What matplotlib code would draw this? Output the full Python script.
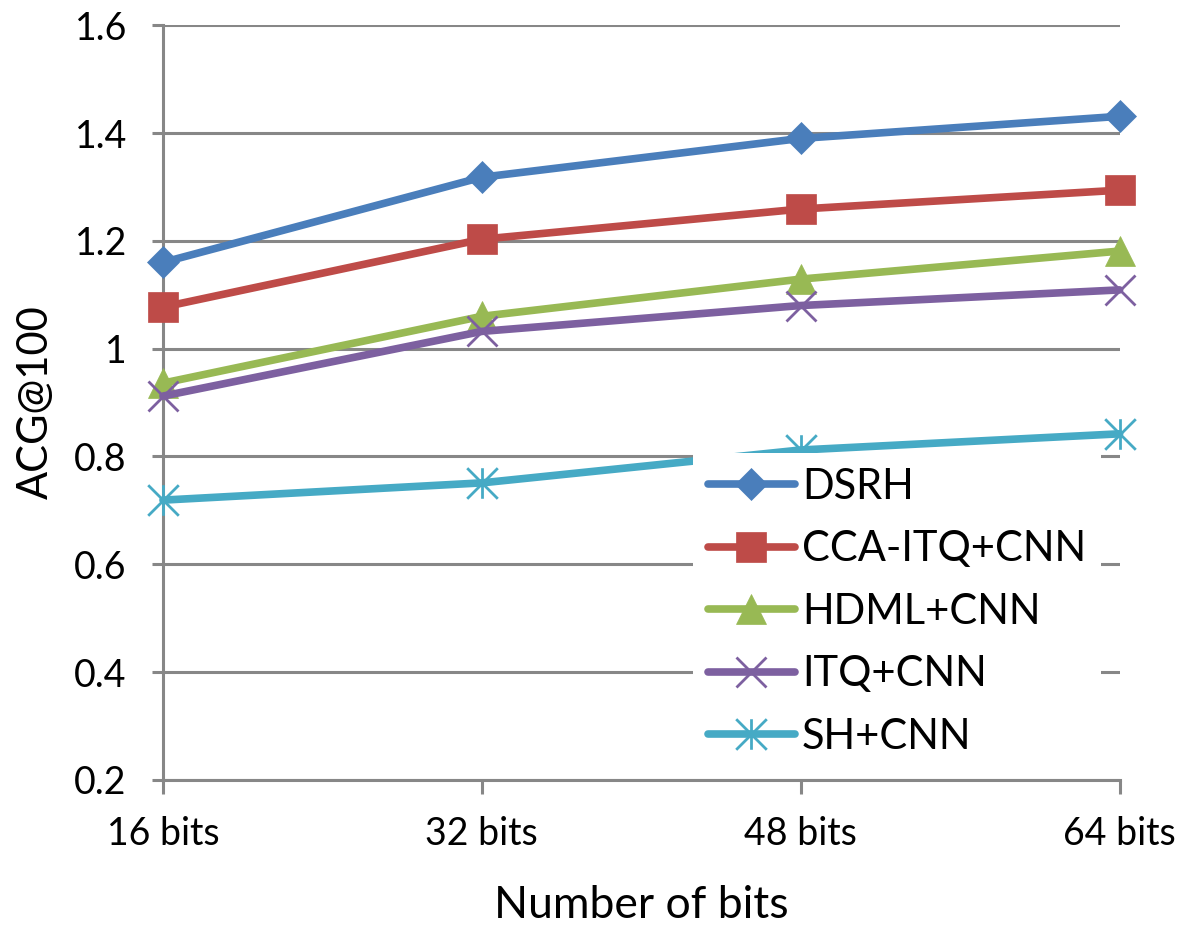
import numpy as np
import matplotlib
matplotlib.use("Agg")
import matplotlib.pyplot as plt
from matplotlib.path import Path

# datos
bits = [16, 32, 48, 64]
bit_labels = ["16 bits", "32 bits", "48 bits", "64 bits"]
dsrh = [1.16, 1.318, 1.39, 1.431]
cca_itq = [1.077, 1.203, 1.259, 1.294]
hdml = [0.936, 1.06, 1.129, 1.181]
itq = [0.912, 1.032, 1.08, 1.109]
sh = [0.719, 0.751, 0.812, 0.842]
y_ticks = [0.2, 0.4, 0.6, 0.8, 1.0, 1.2, 1.4, 1.6]
y_tick_labels = ["0.2", "0.4", "0.6", "0.8", "1", "1.2", "1.4", "1.6"]

plt.rcParams['font.family'] = ['Lato', 'DejaVu Sans']

# marcador tipo asterisco (X con linea vertical)
asterisk = Path(
    [(-1, -1), (1, 1), (-1, 1), (1, -1), (0, -1), (0, 1)],
    [Path.MOVETO, Path.LINETO, Path.MOVETO, Path.LINETO, Path.MOVETO, Path.LINETO],
)

series = [
    ("DSRH", dsrh, "#4A7EBB", "D", 16, 0.5),
    ("CCA-ITQ+CNN", cca_itq, "#BE4B48", "s", 22, 0.5),
    ("HDML+CNN", hdml, "#98B954", "^", 22, 0.5),
    ("ITQ+CNN", itq, "#7D60A0", "x", 22, 2.0),
    ("SH+CNN", sh, "#46AAC5", asterisk, 22, 2.0),
]

fig = plt.figure(figsize=(11.81, 9.34), dpi=100)
ax = fig.add_axes([0.138, 0.165, 0.810, 0.808])

grid_color = "#878787"
for y in y_ticks:
    ax.axhline(y, color=grid_color, lw=2.2, zorder=1)

for name, vals, color, mk, ms, mew in series:
    ax.plot(bits, vals, color=color, lw=5.5, marker=mk, markersize=ms,
            markerfacecolor=color, markeredgecolor=color, markeredgewidth=mew,
            label=name, zorder=3, clip_on=False, solid_capstyle="round")

ax.set_xlim(16, 64)
ax.set_ylim(0.2, 1.6)
ax.set_xticks(bits)
ax.set_xticklabels(bit_labels)
ax.set_yticks(y_ticks)
ax.set_yticklabels(y_tick_labels)

for s in ["top", "right"]:
    ax.spines[s].set_visible(False)
for s in ["left", "bottom"]:
    ax.spines[s].set_color(grid_color)
    ax.spines[s].set_linewidth(2.2)

ax.tick_params(axis="y", length=8, width=2.2, color=grid_color, labelsize=27, pad=18)
ax.tick_params(axis="x", length=10, width=2.2, color=grid_color, labelsize=27, pad=16)

ax.set_xlabel("Number of bits", fontsize=32, labelpad=24)
ax.set_ylabel("ACG@100", fontsize=30, labelpad=14)

leg = ax.legend(loc="upper left", bbox_to_anchor=(0.554, 0.433), fontsize=30,
                frameon=True, fancybox=False, edgecolor="none", facecolor="white",
                framealpha=1, handlelength=2.1, handletextpad=0.17,
                labelspacing=0.59, borderpad=0.35, borderaxespad=0)
leg.set_zorder(5)

fig.savefig("out.png", dpi=100, facecolor="white")
